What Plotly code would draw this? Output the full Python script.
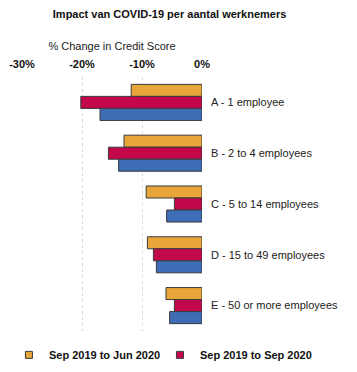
import plotly.graph_objects as go

categories = ["A - 1 employee", "B - 2 to 4 employees", "C - 5 to 14 employees",
              "D - 15 to 49 employees", "E - 50 or more employees"]
series_names = ["Sep 2019 to Jun 2020", "Sep 2019 to Sep 2020", "Sep 2019 to Dec 2020"]
jun_2020 = [-11.8, -13.0, -9.3, -9.1, -6.0]
sep_2020 = [-20.2, -15.6, -4.6, -8.1, -4.6]
third = [-17.0, -13.9, -5.9, -7.6, -5.4]
tick_vals = [-30, -20, -10, 0]
tick_text = ["-30%", "-20%", "-10%", "0%"]

colors = ["#E8A63A", "#C2074B", "#3E6DB5"]
values = [jun_2020, sep_2020, third]

fig = go.Figure()
for name, vals, c in zip(series_names, values, colors):
    fig.add_trace(go.Bar(
        y=categories, x=vals, orientation="h", name=name,
        marker=dict(color=c, line=dict(color="#3a3a3a", width=1)),
        showlegend=False,
    ))
# legend entries (small square markers) for the first two series only
for name, c, lg in zip(series_names[:2], colors[:2], ["legend", "legend2"]):
    fig.add_trace(go.Scatter(
        x=[None], y=[None], mode="markers", name="<b>" + name + "</b>",
        marker=dict(symbol="square", size=7, color=c, line=dict(color="#3a3a3a", width=1)),
        legend=lg,
    ))

legend_style = dict(
    orientation="h", xref="container", yref="container",
    xanchor="left", y=0.046, yanchor="middle",
    font=dict(size=11, color="#111"), itemwidth=30,
)

fig.update_layout(
    width=357, height=372,
    paper_bgcolor="white", plot_bgcolor="white",
    font=dict(family="Liberation Sans, Arial, sans-serif", size=11, color="#222"),
    title=dict(text="<b>Impact van COVID-19 per aantal werknemers</b>",
               x=0.475, xanchor="center", y=0.962, yanchor="middle",
               font=dict(size=11, color="#111")),
    margin=dict(l=22, r=155, t=77, b=41),
    barmode="group", bargap=0.29, bargroupgap=0,
    xaxis=dict(
        side="top", range=[-30, 0], tickvals=tick_vals,
        ticktext=["<b>" + t + "</b>" for t in tick_text],
        tickfont=dict(size=11, color="#111"),
        showgrid=True, gridcolor="#d8d8d8", griddash="dot", gridwidth=1,
        zeroline=False, showline=False, ticks="", ticklabelstandoff=6,
        title=dict(text="% Change in Credit Score", standoff=4,
                   font=dict(size=11, color="#222")),
        fixedrange=True, automargin=False,
    ),
    yaxis=dict(
        side="right", autorange="reversed", ticks="", showgrid=False,
        showline=False, zeroline=False, ticklabelstandoff=8,
        tickfont=dict(size=11, color="#222"), automargin=False,
        fixedrange=True,
    ),
    legend=dict(x=0.025, **legend_style),
    legend2=dict(x=0.448, **legend_style),
)

fig.write_html("out.html", config={"displayModeBar": False},
               post_script="document.body.style.margin='0';")
